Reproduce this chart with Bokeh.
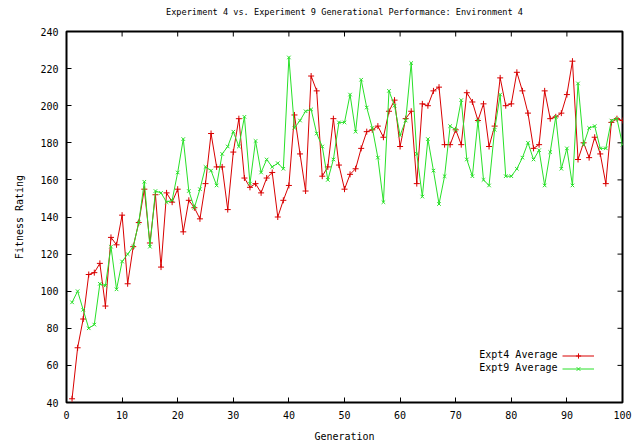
import math
from bokeh.plotting import figure
from bokeh.models import Range1d, FixedTicker, Legend, LegendItem, ColumnDataSource, Label, LinearAxis
from bokeh.embed import file_html
from bokeh.resources import INLINE

generations = list(range(1, 101))
expt4 = [42, 69.5, 85, 109, 110, 115, 92, 129, 125, 141,
         104, 124, 137, 155, 126, 152, 113, 153, 148, 155,
         132, 149, 145, 139, 158, 185, 167, 167, 144, 175,
         193, 161, 156, 158, 153, 161, 164, 140, 149, 157,
         195, 174, 154, 216, 208, 162, 167, 193, 168, 155,
         163, 166, 177, 186, 187, 189, 183, 197, 203, 178,
         193, 197, 158, 201, 200, 208, 210, 179, 179, 187,
         179, 207, 202, 192, 201, 178, 189, 215, 200, 201,
         218, 208, 196, 177, 179, 208, 193, 194, 196, 206,
         224, 171, 180, 172, 183, 174, 158, 191, 193, 192]
expt9 = [94, 100, 90, 80, 82, 104, 103, 124, 101, 116,
         120, 124, 137, 159, 124, 154, 153, 148, 149, 164,
         182, 154, 145, 155, 167, 165, 157, 174, 178, 186,
         178, 194, 158, 181, 164, 171, 167, 169, 166, 226,
         188, 192, 197, 198, 185, 178, 160, 171, 191, 191,
         206, 186, 214, 199, 188, 172, 148, 208, 200, 184,
         192, 223, 174, 151, 182, 165, 147, 162, 189, 187,
         203, 171, 162, 192, 160, 157, 187, 206, 162, 162,
         166, 172, 180, 171, 176, 157, 175, 194, 166, 177,
         157, 212, 179, 188, 189, 177, 177, 192, 193, 179]
series_names = ["Expt4 Average", "Expt9 Average"]
x_ticks = list(range(0, 101, 10))
y_ticks = list(range(40, 241, 20))
x_min, x_max = 0, 100
y_min, y_max = 40, 240

title_text = "Experiment 4 vs. Experiment 9 Generational Performance: Environment 4"
FONT = "DejaVu Sans Mono"
RED = "#d80000"
GREEN = "#28e028"

src = ColumnDataSource(dict(g=generations, e4=expt4, e9=expt9))

p = figure(width=639, height=444, output_backend="svg", toolbar_location=None,
           x_range=Range1d(x_min, x_max), y_range=Range1d(y_min, y_max))
p.min_border_left = 66
p.min_border_right = 17
p.min_border_top = 31
p.min_border_bottom = 40
p.background_fill_color = "white"
p.border_fill_color = "white"
p.outline_line_color = "black"
p.outline_line_width = 2
p.grid.visible = False

for ax in (p.xaxis[0], p.yaxis[0]):
    ax.axis_line_color = None
    ax.major_tick_in = 5
    ax.major_tick_out = 0
    ax.major_tick_line_color = "black"
    ax.minor_tick_line_color = None
    ax.major_label_text_font = FONT
    ax.major_label_text_font_size = "10px"
    ax.major_label_text_color = "black"
    ax.axis_label_text_font = FONT
    ax.axis_label_text_font_size = "10px"
    ax.axis_label_text_font_style = "normal"
    ax.axis_label_text_color = "black"

p.xaxis[0].ticker = FixedTicker(ticks=x_ticks)
p.yaxis[0].ticker = FixedTicker(ticks=y_ticks)
p.xaxis[0].axis_label = "Generation"
p.yaxis[0].axis_label = "Fitness Rating"
p.xaxis[0].major_label_standoff = 8
p.yaxis[0].major_label_standoff = 8
p.xaxis[0].axis_label_standoff = 9
p.yaxis[0].axis_label_standoff = 12

# title: centred above the plot frame (label of a tick-less top axis)
top = LinearAxis(ticker=FixedTicker(ticks=[]), axis_label=title_text)
top.axis_line_color = None
top.major_tick_in = 0
top.major_tick_out = 0
top.minor_tick_line_color = None
top.major_label_standoff = 0
top.axis_label_standoff = 15
top.axis_label_text_font = FONT
top.axis_label_text_font_size = "8.6px"
top.axis_label_text_font_style = "normal"
top.axis_label_text_color = "black"
p.add_layout(top, "above")

# mirrored inward ticks on top and right borders
p.ray(x=x_ticks, y=[y_max] * len(x_ticks), length=5, length_units="screen",
      angle=-math.pi / 2, line_color="black", line_width=1)
p.ray(x=[x_max] * len(y_ticks), y=y_ticks, length=5, length_units="screen",
      angle=math.pi, line_color="black", line_width=1)

l4 = p.line("g", "e4", source=src, line_color=RED, line_width=1)
m4 = p.scatter("g", "e4", source=src, marker="cross", size=6, line_color=RED, line_width=1)
l9 = p.line("g", "e9", source=src, line_color=GREEN, line_width=1)
m9 = p.scatter("g", "e9", source=src, marker="x", size=5, line_color=GREEN, line_width=1)

# key samples (gnuplot style: text on the left, sample on the right)
legend = Legend(items=[LegendItem(label="", renderers=[l4, m4]),
                       LegendItem(label="", renderers=[l9, m9])],
                location=(496, 27), orientation="vertical")
legend.border_line_color = None
legend.background_fill_alpha = 0
legend.padding = 0
legend.margin = 0
legend.spacing = 0
legend.glyph_width = 32
legend.glyph_height = 13
legend.label_height = 13
legend.label_standoff = 0
legend.label_text_font_size = "10px"
p.add_layout(legend, "center")

for i, name in enumerate(series_names):
    p.add_layout(Label(x=x_max, y=y_min, x_offset=-65, y_offset=48 - 13 * i,
                       text=name, text_align="right", text_baseline="middle",
                       text_font=FONT, text_font_size="10px", text_color="black"))

open("out.html", "w").write(file_html(p, INLINE))
